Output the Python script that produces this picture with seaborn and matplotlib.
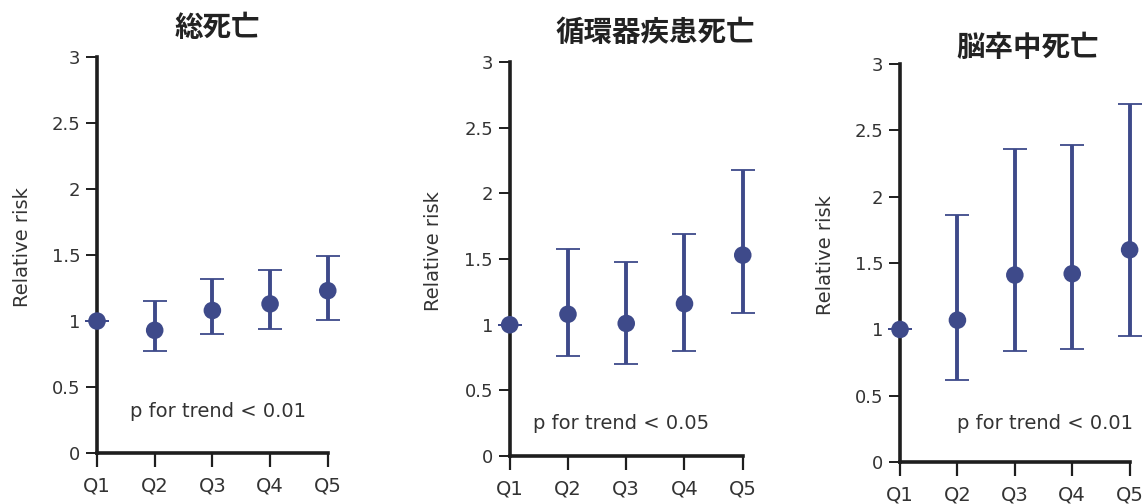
import numpy as np
import seaborn as sns
from matplotlib import pyplot as plt

sns.set_style('ticks')
plt.rcParams['font.family'] = ['DejaVu Sans', 'Noto Sans CJK JP']

quintiles = ['Q1', 'Q2', 'Q3', 'Q4', 'Q5']
titles = ['総死亡', '循環器疾患死亡', '脳卒中死亡']
p_texts = ['p for trend < 0.01', 'p for trend < 0.05', 'p for trend < 0.01']

total_rr = [1.0, 0.93, 1.08, 1.13, 1.23]
total_lo = [1.0, 0.77, 0.90, 0.94, 1.01]
total_hi = [1.0, 1.15, 1.32, 1.39, 1.49]

cvd_rr = [1.0, 1.08, 1.01, 1.16, 1.53]
cvd_lo = [1.0, 0.76, 0.70, 0.80, 1.09]
cvd_hi = [1.0, 1.58, 1.48, 1.69, 2.18]

stroke_rr = [1.0, 1.07, 1.41, 1.42, 1.60]
stroke_lo = [1.0, 0.62, 0.84, 0.85, 0.95]
stroke_hi = [1.0, 1.86, 2.36, 2.39, 2.70]

yticks = [0, 0.5, 1, 1.5, 2, 2.5, 3]
ytick_labels = ['0', '0.5', '1', '1.5', '2', '2.5', '3']

dot_color = '#3e4a8a'
axis_color = '#1e1e1e'
text_color = '#333333'

boxes = [
    [0.0845, 0.101, 0.201, 0.786],
    [0.444, 0.095, 0.203, 0.782],
    [0.784, 0.083, 0.200, 0.790],
]
title_pos = [(0.189, 0.945), (0.571, 0.935), (0.895, 0.905)]
ylabel_x = [0.020, 0.378, 0.719]
p_pos = [(0.143, 0.104), (0.099, 0.084), (0.248, 0.098)]

series = [
    (total_rr, total_lo, total_hi),
    (cvd_rr, cvd_lo, cvd_hi),
    (stroke_rr, stroke_lo, stroke_hi),
]

fig = plt.figure(figsize=(11.48, 5.04), dpi=100)

for i, (rr, lo, hi) in enumerate(series):
    ax = fig.add_axes(boxes[i])
    rr = np.array(rr)
    err = [rr - np.array(lo), np.array(hi) - rr]
    x = np.arange(len(quintiles))
    ax.errorbar(x, rr, yerr=err, fmt='none', ecolor=dot_color,
                elinewidth=2.8, capsize=8.5, capthick=1.3, clip_on=False)
    sns.scatterplot(x=x, y=rr, ax=ax, color=dot_color, s=160,
                    edgecolor='none', clip_on=False, zorder=5)
    ax.set_xlim(0, 4)
    ax.set_ylim(0, 3)
    ax.set_xticks(x)
    ax.set_xticklabels(quintiles, fontsize=14, color=text_color)
    ax.set_yticks(yticks)
    ax.set_yticklabels(ytick_labels, fontsize=13, color=text_color)
    ax.tick_params(axis='x', direction='out', length=10, width=1.6,
                   color=axis_color, pad=7)
    ax.tick_params(axis='y', direction='out', length=8, width=1.4,
                   color=axis_color, pad=4)
    sns.despine(ax=ax)
    for side in ('left', 'bottom'):
        ax.spines[side].set_linewidth(2.6)
        ax.spines[side].set_color(axis_color)
    ax.set_ylabel('')
    ax.text(p_pos[i][0], p_pos[i][1], p_texts[i], transform=ax.transAxes,
            fontsize=14, color=text_color, ha='left', va='center')
    fig.text(ylabel_x[i], boxes[i][1] + boxes[i][3] * 0.52, 'Relative risk',
             rotation=90, fontsize=14, color=text_color,
             ha='center', va='center')
    fig.text(title_pos[i][0], title_pos[i][1], titles[i], fontsize=20.5,
             fontweight='bold', color='#222222', ha='center', va='center',
             family=['Noto Sans CJK JP', 'DejaVu Sans'])

fig.savefig('out.png', dpi=100)
